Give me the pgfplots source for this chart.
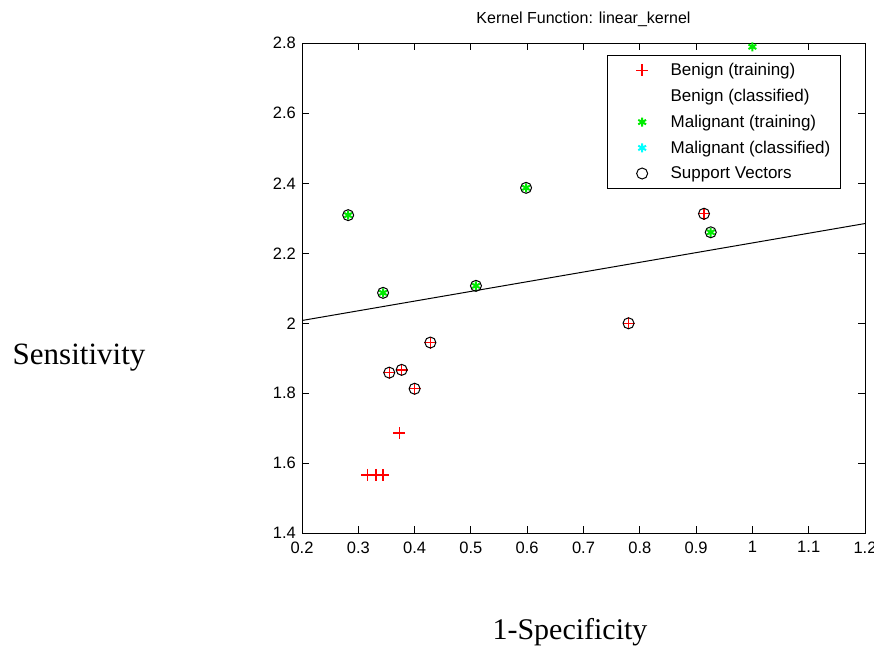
\documentclass[border=0pt]{standalone}
\usepackage{fontspec}
\setmainfont{Liberation Sans}
\newfontfamily\timesf{Liberation Serif}
\usepackage{pgfplots}
\pgfplotsset{compat=1.18}
\definecolor{mred}{RGB}{255,0,0}
\definecolor{mgreen}{RGB}{0,235,0}
\definecolor{mcyan}{RGB}{0,255,255}
\begin{document}
\begin{tikzpicture}[x=1pt,y=1pt]
\path[use as bounding box] (0,0) rectangle (874,652);
\begin{axis}[
  at={(302pt,118.7pt)}, anchor=south west,
  scale only axis, width=563pt, height=490pt,
  xmin=0.2, xmax=1.2, ymin=1.4, ymax=2.8,
  xtick={0.2,0.3,0.4,0.5,0.6,0.7,0.8,0.9,1,1.1,1.2},
  ytick={1.4,1.6,1.8,2,2.2,2.4,2.6,2.8},
  tick align=inside, major tick length=7pt,
  axis line style={line width=1pt},
  tick style={line width=1pt, black},
  /pgf/number format/assume math mode=true,
  ticklabel style={font=\fontsize{16.5}{18}\selectfont, inner sep=0pt},
  xticklabel shift=8pt, yticklabel shift=6pt,
  title={Kernel Function: linear\_kernel},
  title style={font=\fontsize{16}{18}\selectfont, at={(0.5,1)}, anchor=south, inner sep=0pt, yshift=10pt},
  xlabel={\timesf 1-Specificity},
  xlabel style={at={(axis description cs:0.476,-0.201)}, anchor=center, font=\fontsize{30}{34}\selectfont},
  ylabel={\timesf Sensitivity},
  ylabel style={rotate=-90, at={(axis description cs:-0.396,0.358)}, anchor=center, font=\fontsize{31}{34}\selectfont},
  legend style={at={(axis description cs:0.542,0.976)}, anchor=north west, draw=black, line width=1pt,
    font=\fontsize{17}{19}\selectfont, cells={anchor=west}, row sep=8pt, inner xsep=8pt, inner ysep=6pt},
  legend image code/.code={\draw[mark repeat=2,mark phase=2,#1] plot coordinates {(0pt,0pt)(26pt,0pt)(52pt,0pt)};},
]
\addplot[only marks, mark=+, draw=mred, mark options={draw=mred, solid, line width=1.5pt}, mark size=6pt, line width=1.5pt] coordinates {
(0.355,1.859) (0.377,1.867) (0.400,1.813) (0.428,1.945) (0.914,2.313) (0.780,2.000)
(0.373,1.686) (0.316,1.567) (0.331,1.567) (0.344,1.567)};
\addlegendentry{Benign (training)}
\addlegendimage{legend image code/.code={\path (0pt,0pt) (52pt,0pt);}}
\addlegendentry{Benign (classified)}
\addplot[only marks, mark=asterisk, draw=mgreen, mark options={draw=mgreen, fill=mgreen}, mark size=4.5pt, line width=2pt] coordinates {
(0.282,2.309) (0.344,2.087) (0.509,2.107) (0.598,2.387) (0.926,2.260) (1.000,2.790)};
\addlegendentry{Malignant (training)}
\addlegendimage{only marks, mark=asterisk, draw=mcyan, mark options={draw=mcyan}, mark size=4.5pt, line width=2pt}
\addlegendentry{Malignant (classified)}
\addplot[only marks, mark=o, black, mark size=5.5pt, line width=1pt] coordinates {
(0.282,2.309) (0.344,2.087) (0.509,2.107) (0.598,2.387) (0.926,2.260)
(0.355,1.859) (0.377,1.867) (0.400,1.813) (0.428,1.945) (0.914,2.313) (0.780,2.000)};
\addlegendentry{Support Vectors}
\addplot[black, line width=1pt, forget plot] coordinates {(0.2,2.008) (1.2,2.285)};
\end{axis}
\end{tikzpicture}
\end{document}
